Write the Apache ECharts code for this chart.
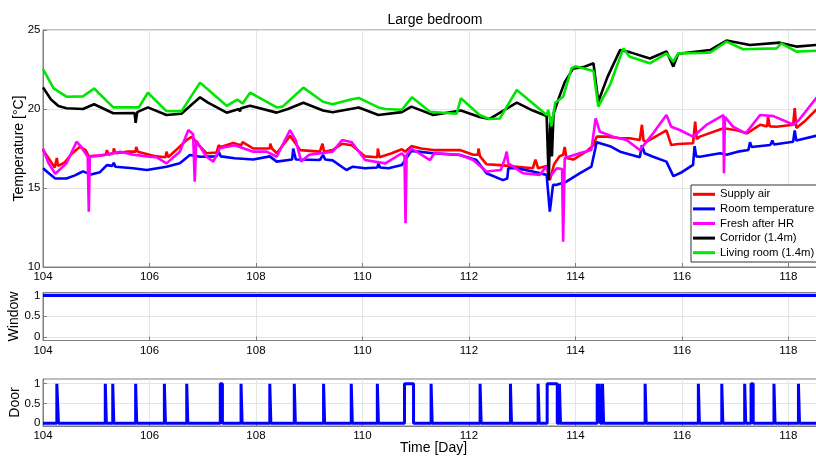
<!DOCTYPE html>
<html><head><meta charset="utf-8">
<script src="https://cdn.jsdelivr.net/npm/echarts@6/dist/echarts.min.js"></script>
<style>html,body{margin:0;padding:0;background:#fff}#c{width:816px;height:459px}</style>
</head><body><div id="c"></div>
<script>
const titleText = 'Large bedroom';
const seriesNames = ['Supply air', 'Room temperature', 'Fresh after HR', 'Corridor (1.4m)', 'Living room (1.4m)'];
const xTickValues = [104, 106, 108, 110, 112, 114, 116, 118];
const tempTicks = [10, 15, 20, 25];
const stateTicks = [0, 0.5, 1];

const supplyAir = [[104.0,17.4],[104.12,16.8],[104.22,16.3],[104.26,16.9],[104.28,16.4],[104.4,16.6],[104.55,17.2],[104.69,17.6],[104.8,17.4],[104.86,17.0],[105.05,17.05],[105.18,17.1],[105.2,17.4],[105.23,17.1],[105.32,17.2],[105.33,17.5],[105.36,17.2],[105.6,17.3],[105.74,17.3],[105.75,17.6],[105.78,17.3],[106.0,17.1],[106.13,17.0],[106.3,16.95],[106.32,17.3],[106.35,16.95],[106.5,17.4],[106.7,18.05],[106.8,18.25],[106.9,17.8],[107.07,17.2],[107.26,17.25],[107.3,17.7],[107.34,17.6],[107.57,17.85],[107.72,17.7],[107.75,17.9],[107.95,17.5],[108.26,17.5],[108.27,17.8],[108.3,17.5],[108.39,17.2],[108.64,18.3],[108.83,17.4],[109.2,17.3],[109.25,17.8],[109.28,17.3],[109.44,17.4],[109.62,17.8],[109.8,17.7],[110.05,17.0],[110.28,16.95],[110.29,17.5],[110.32,16.95],[110.55,17.2],[110.74,17.45],[110.8,17.3],[110.92,17.65],[111.1,17.5],[111.33,17.4],[111.83,17.4],[112.08,17.1],[112.17,17.1],[112.18,17.5],[112.21,17.0],[112.33,16.5],[112.58,16.45],[112.75,16.4],[112.9,16.35],[113.2,16.25],[113.25,16.8],[113.3,16.25],[113.46,16.4],[113.52,15.5],[113.6,16.5],[113.7,17.0],[113.77,17.1],[113.8,17.6],[113.83,16.9],[113.96,16.8],[114.2,17.3],[114.34,17.7],[114.4,18.25],[114.6,18.25],[114.84,18.15],[115.02,18.15],[115.21,18.04],[115.25,19.0],[115.28,18.0],[115.34,17.93],[115.71,18.65],[115.8,17.72],[115.93,17.78],[116.21,17.83],[116.25,19.2],[116.28,18.1],[116.34,18.25],[116.78,18.78],[117.03,18.65],[117.22,18.46],[117.47,19.0],[117.6,18.9],[117.62,19.5],[117.65,18.9],[117.78,18.88],[118.09,19.0],[118.12,20.05],[118.15,18.8],[118.3,19.2],[118.52,19.95],[118.67,20.1]];

const roomTemp = [[104.0,16.25],[104.12,15.9],[104.23,15.6],[104.44,15.6],[104.6,15.8],[104.69,15.95],[104.75,16.05],[104.9,15.85],[105.07,16.0],[105.2,16.45],[105.3,16.4],[105.33,16.6],[105.36,16.35],[105.69,16.25],[105.95,16.14],[106.32,16.35],[106.57,16.56],[106.76,17.09],[106.95,16.98],[107.26,17.0],[107.3,17.3],[107.34,17.0],[107.6,16.88],[107.95,16.8],[108.26,17.0],[108.39,16.67],[108.68,16.8],[108.7,17.5],[108.75,16.8],[109.2,16.77],[109.26,17.1],[109.3,16.8],[109.44,16.75],[109.7,16.14],[109.82,16.35],[110.05,16.25],[110.28,16.3],[110.3,16.56],[110.33,16.3],[110.49,16.25],[110.74,16.46],[110.92,17.35],[111.33,17.2],[111.83,17.09],[112.14,16.77],[112.33,15.93],[112.64,15.5],[112.72,15.6],[112.74,16.25],[112.9,16.25],[113.2,16.04],[113.46,15.83],[113.52,13.5],[113.58,15.2],[113.65,15.2],[113.83,15.4],[114.08,15.93],[114.3,16.35],[114.4,17.9],[114.65,17.65],[114.84,17.3],[115.21,16.95],[115.25,17.7],[115.3,17.2],[115.46,16.98],[115.71,16.67],[115.84,15.75],[116.0,16.0],[116.21,16.46],[116.24,17.65],[116.27,17.0],[116.34,16.98],[116.72,17.2],[116.84,17.1],[117.05,17.3],[117.25,17.4],[117.28,17.9],[117.31,17.6],[117.66,17.72],[117.7,18.0],[117.73,17.75],[118.09,17.93],[118.12,18.65],[118.15,18.0],[118.52,18.3],[118.67,18.4]];

const freshAfterHR = [[104.0,17.5],[104.1,16.6],[104.23,15.9],[104.44,16.56],[104.63,17.93],[104.72,17.6],[104.84,16.98],[104.86,13.5],[104.88,17.0],[105.07,17.05],[105.45,17.3],[105.7,17.1],[105.95,17.0],[106.13,16.95],[106.32,16.56],[106.57,17.3],[106.73,18.67],[106.82,18.4],[106.85,15.4],[106.88,18.0],[107.07,16.98],[107.2,16.67],[107.32,17.51],[107.6,17.7],[107.95,17.3],[108.2,17.3],[108.39,16.98],[108.64,18.67],[108.75,18.0],[108.85,16.67],[109.0,17.1],[109.44,17.3],[109.62,18.04],[109.8,17.9],[110.05,16.77],[110.43,16.56],[110.74,17.2],[110.79,17.0],[110.81,12.77],[110.83,17.1],[110.92,17.5],[111.27,16.77],[111.35,17.2],[111.83,17.1],[112.08,16.77],[112.33,16.04],[112.6,16.14],[112.68,16.9],[112.71,17.3],[112.74,16.56],[113.02,15.93],[113.33,15.83],[113.45,16.35],[113.52,15.72],[113.65,16.25],[113.75,16.2],[113.77,11.6],[113.8,16.9],[114.08,17.2],[114.3,17.4],[114.38,19.4],[114.46,18.56],[114.71,18.25],[114.96,18.04],[115.21,17.4],[115.46,18.46],[115.71,19.62],[115.8,18.88],[115.96,18.67],[116.21,18.25],[116.46,18.99],[116.78,19.62],[116.79,15.93],[116.81,19.5],[116.96,18.88],[117.2,18.46],[117.47,19.62],[117.72,19.55],[118.1,19.0],[118.2,19.3],[118.52,20.68],[118.67,20.9]];

const corridor = [[104.0,21.37],[104.15,20.6],[104.29,20.19],[104.44,20.05],[104.75,20.0],[104.96,20.3],[105.32,19.73],[105.72,19.75],[105.74,19.13],[105.77,19.8],[105.97,20.1],[106.32,19.62],[106.6,19.7],[106.8,20.3],[106.95,20.74],[107.1,20.4],[107.45,19.77],[107.68,20.0],[107.7,19.85],[107.72,20.05],[107.89,20.2],[108.39,19.77],[108.6,20.0],[108.89,20.4],[109.26,19.9],[109.44,19.8],[109.93,20.1],[110.3,19.62],[110.74,19.8],[110.92,20.15],[111.33,19.62],[111.85,19.9],[112.2,19.5],[112.39,19.37],[112.75,20.1],[112.9,20.4],[113.2,19.9],[113.46,19.56],[113.5,15.5],[113.53,19.5],[113.56,17.0],[113.59,19.7],[113.7,20.8],[113.8,21.7],[113.96,22.57],[114.15,22.65],[114.34,22.89],[114.43,20.46],[114.6,22.0],[114.84,23.73],[115.02,23.6],[115.4,23.2],[115.71,23.65],[115.84,22.68],[115.93,23.5],[116.53,23.73],[116.84,24.33],[117.28,24.05],[117.84,24.2],[118.15,23.95],[118.52,24.05],[118.67,24.05]];

const livingRoom = [[104.0,22.53],[104.2,21.3],[104.44,20.78],[104.75,20.8],[104.96,21.3],[105.32,20.1],[105.8,20.1],[105.97,21.03],[106.32,19.87],[106.6,19.85],[106.95,21.67],[107.45,20.2],[107.65,20.6],[107.75,20.35],[107.89,21.03],[108.39,20.1],[108.5,20.15],[108.89,21.35],[109.26,20.46],[109.44,20.3],[109.78,20.6],[109.93,20.7],[110.3,20.1],[110.43,20.0],[110.74,19.95],[110.93,20.74],[111.27,19.83],[111.77,19.7],[111.85,20.68],[112.2,19.62],[112.39,19.37],[112.58,19.4],[112.9,21.2],[113.46,19.62],[113.49,19.94],[113.55,18.9],[113.62,20.4],[113.77,20.78],[113.93,22.58],[114.0,22.7],[114.34,22.4],[114.43,20.15],[114.65,21.52],[114.9,23.84],[115.02,23.31],[115.4,22.89],[115.71,23.52],[115.84,23.0],[115.93,23.52],[116.53,23.56],[116.84,24.26],[117.15,23.78],[117.78,23.84],[117.87,24.16],[118.15,23.63],[118.52,23.69],[118.67,23.7]];

const windowState = [[104.0,1],[118.67,1]];

const doorOpenIntervals = [[104.26,104.29],[105.17,105.19],[105.31,105.33],[105.74,105.76],[106.28,106.30],[106.70,106.72],[107.33,107.37],[107.72,107.74],[108.26,108.28],[108.72,108.74],[109.27,109.29],[109.79,109.81],[110.28,110.30],[110.79,110.96],[111.29,111.31],[112.21,112.23],[112.78,112.80],[113.30,113.32],[113.47,113.66],[113.70,113.72],[114.41,114.43],[114.45,114.47],[114.51,114.53],[115.31,115.33],[116.31,116.33],[116.75,116.77],[117.18,117.20],[117.30,117.34],[117.73,117.75],[118.19,118.21]];

const xMin = 104, xMax = 118.67;

const doorState = [[xMin, 0]];
doorOpenIntervals.forEach(([s, e]) => { doorState.push([s, 0], [s, 1], [e, 1], [e, 0]); });
doorState.push([xMax, 0]);

const FONT = '"Liberation Sans", Arial, sans-serif';
const axisGray = '#7f7f7f';
const gridGray = '#e4e4e4';

function xAxisCfg(gi, extra) {
  return Object.assign({
    type: 'value', gridIndex: gi, min: xMin, max: xMax,
    axisLine: { show: true, onZero: false, lineStyle: { color: axisGray, width: 1 } },
    axisTick: { show: true, inside: true, length: 4, customValues: xTickValues, lineStyle: { color: axisGray } },
    axisLabel: { customValues: xTickValues, color: '#000', fontSize: 11.5, fontFamily: FONT, margin: 4 },
    splitLine: { show: true, lineStyle: { color: gridGray, width: 1 } }
  }, extra || {});
}
function yAxisCfg(gi, name, min, max, ticks, gap) {
  return {
    type: 'value', gridIndex: gi, min: min, max: max,
    name: name, nameLocation: 'middle', nameGap: gap, nameRotate: 90, nameMoveOverlap: false,
    nameTextStyle: { color: '#000', fontSize: 14, fontFamily: FONT },
    axisLine: { show: true, lineStyle: { color: axisGray, width: 1 } },
    axisTick: { show: true, inside: true, length: 4, customValues: ticks, lineStyle: { color: axisGray } },
    axisLabel: { customValues: ticks, color: '#000', fontSize: 11.5, fontFamily: FONT, margin: 2.5 },
    splitLine: { show: true, lineStyle: { color: gridGray, width: 1 } }
  };
}

const colors = ['#ff0000', '#0000ff', '#ff00ff', '#000000', '#00e600'];
const tempData = [supplyAir, roomTemp, freshAfterHR, corridor, livingRoom];

const series = tempData.map((d, i) => ({
  name: seriesNames[i], type: 'line', xAxisIndex: 0, yAxisIndex: 0,
  data: d, showSymbol: false, symbol: 'none', lineStyle: { color: colors[i], width: 2.6 },
  itemStyle: { color: colors[i] }, z: 2 + i, animation: false
}));
series.push({ name: 'Window', type: 'line', xAxisIndex: 1, yAxisIndex: 1, data: windowState,
  showSymbol: false, symbol: 'none', lineStyle: { color: '#0000ff', width: 3.4 }, animation: false });
series.push({ name: 'Door', type: 'line', xAxisIndex: 2, yAxisIndex: 2, data: doorState,
  showSymbol: false, symbol: 'none', lineStyle: { color: '#0000ff', width: 3 }, animation: false });

const gridBase = { left: 43, right: -8, show: true, borderColor: axisGray, borderWidth: 1,
  backgroundColor: '#fff', containLabel: false, outerBoundsMode: 'none' };

const chart = echarts.init(document.getElementById('c'), null, { renderer: 'canvas' });
chart.setOption({
  backgroundColor: '#ffffff',
  animation: false,
  title: { text: titleText, left: 430, top: 8, textAlign: 'center',
    textStyle: { fontSize: 14, fontWeight: 'normal', color: '#000', fontFamily: FONT } },
  legend: {
    data: seriesNames, orient: 'vertical', left: 691, top: 185,
    backgroundColor: '#ffffff', borderColor: '#333', borderWidth: 1,
    padding: [2, 30, 2, 2], itemGap: 0, itemWidth: 22, itemHeight: 3, icon: 'rect',
    textStyle: { fontSize: 11.3, fontFamily: FONT, color: '#000', lineHeight: 14.6 }
  },
  grid: [
    Object.assign({ top: 30, height: 237 }, gridBase),
    Object.assign({ top: 292.5, height: 48 }, gridBase),
    Object.assign({ top: 379, height: 47 }, gridBase)
  ],
  xAxis: [
    xAxisCfg(0),
    xAxisCfg(1),
    xAxisCfg(2, { name: 'Time [Day]', nameLocation: 'middle', nameGap: 15, nameMoveOverlap: false,
      nameTextStyle: { color: '#000', fontSize: 14, fontFamily: FONT, verticalAlign: 'top' } })
  ],
  yAxis: [
    yAxisCfg(0, 'Temperature [°C]', 10, 25, tempTicks, 17),
    yAxisCfg(1, 'Window', -0.08, 1.07, stateTicks, 22),
    yAxisCfg(2, 'Door', -0.07, 1.12, stateTicks, 21)
  ],
  series: series
});
</script>
</body></html>
